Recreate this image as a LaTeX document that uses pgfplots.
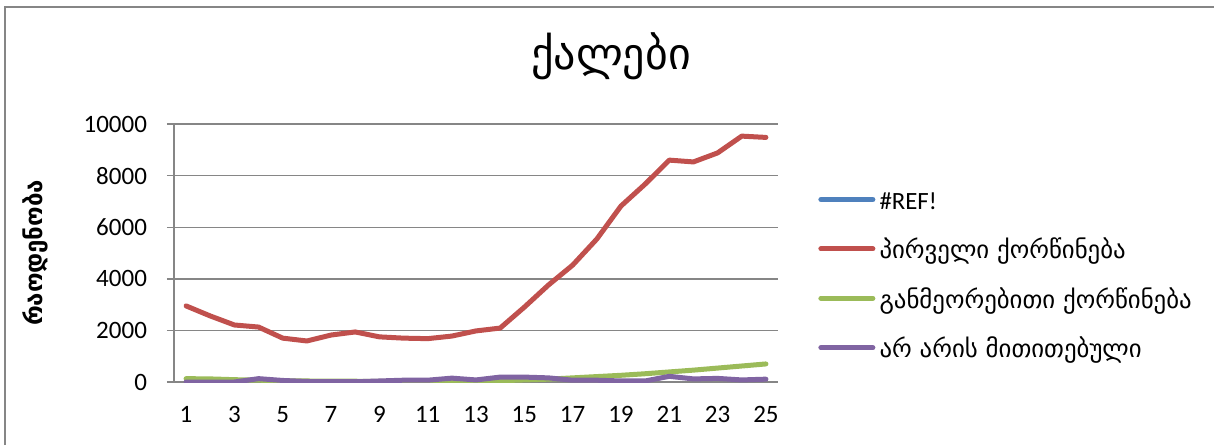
\documentclass[border=0pt]{standalone}
\usepackage{fontspec}
\setmainfont{Carlito}
\newfontfamily\geo{DejaVu Sans}
\usepackage{pgfplots}
\pgfplotsset{compat=1.18}
\definecolor{sBlue}{HTML}{4F81BD}
\definecolor{sRed}{HTML}{C0504D}
\definecolor{sGreen}{HTML}{9BBB59}
\definecolor{sPurple}{HTML}{8064A2}
\definecolor{axgray}{HTML}{868686}
\begin{document}
\begin{tikzpicture}
\useasboundingbox (0,0) rectangle (607pt,222.5pt);
\draw[axgray, line width=0.7pt] (2.5pt,0) -- (2.5pt,219pt) -- (607pt,219pt);
\begin{axis}[
  at={(87pt,31.5pt)}, anchor=south west,
  scale only axis, width=302pt, height=129pt,
  xmin=0.5, xmax=25.5, ymin=0, ymax=10000,
  xtick={1,3,...,25}, ytick={0,2000,...,10000},
  scaled y ticks=false,
  separate axis lines,
  axis x line=bottom, axis y line=left,
  x axis line style={-, axgray, line width=0.7pt},
  y axis line style={-, axgray, line width=0.7pt},
  ymajorgrids, grid style={axgray, line width=0.7pt},
  xtick style={draw=none},
  ytick style={axgray, line width=0.7pt},
  tick align=outside, major tick length=3.5pt,
  /pgf/number format/assume math mode=true,
  /pgf/number format/1000 sep={},
  ticklabel style={font=\fontsize{12.5}{14}\selectfont},
  yticklabel style={xshift=-6.5pt},
  xticklabel style={yshift=-5pt},
  title={\geo\fontsize{22}{26}\selectfont ქალები},
  title style={at={(rel axis cs:0.7235,1.217)}, anchor=center, inner sep=0pt},
  ylabel={\geo\bfseries\fontsize{12}{14}\selectfont რაოდენობა},
  every axis y label/.style={at={(rel axis cs:-0.230,0.5)}, rotate=90, anchor=center},
  legend cell align=left,
  legend style={draw=none, fill=none, at={(rel axis cs:1.0662,0.771)}, anchor=north west,
    inner sep=0pt, row sep=7.7pt,
    nodes={inner sep=0pt, text height=10pt, text depth=4pt, font=\fontsize{12.4}{14}\selectfont}},
  legend image code/.code={\path[draw=none, fill=none] (0pt,-4pt) rectangle (26pt,10pt);
    \draw[#1, line width=2.5pt, line cap=round] (0pt,2pt) -- (26pt,2pt);},
  every axis plot/.append style={line width=2.5pt, line join=round, line cap=round, no markers},
]
\addlegendimage{sBlue}
\addlegendentry{\,\#REF!}
\addplot[sRed] coordinates {
(1,2950) (2,2560) (3,2210) (4,2130) (5,1700) (6,1590) (7,1820) (8,1940) (9,1750)
(10,1700) (11,1680) (12,1780) (13,1980) (14,2090) (15,2900) (16,3760) (17,4530)
(18,5540) (19,6820) (20,7670) (21,8600) (22,8530) (23,8880) (24,9530) (25,9480)};
\addlegendentry{\,\geo პირველი ქორწინება}
\addplot[sGreen] coordinates {
(1,130) (2,120) (3,90) (4,70) (5,50) (6,40) (7,30) (8,30) (9,20) (10,20) (11,20)
(12,20) (13,30) (14,50) (15,80) (16,110) (17,160) (18,210) (19,260) (20,320)
(21,390) (22,460) (23,540) (24,620) (25,700)};
\addlegendentry{\,\geo განმეორებითი ქორწინება}
\addplot[sPurple] coordinates {
(1,0) (2,0) (3,0) (4,130) (5,60) (6,20) (7,10) (8,10) (9,40) (10,70) (11,70)
(12,150) (13,80) (14,190) (15,190) (16,160) (17,70) (18,70) (19,40) (20,40)
(21,220) (22,120) (23,140) (24,80) (25,110)};
\addlegendentry{\,\geo არ არის მითითებული}
\end{axis}
\end{tikzpicture}
\end{document}
